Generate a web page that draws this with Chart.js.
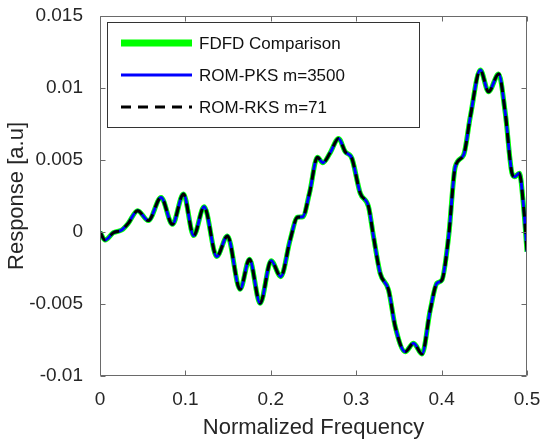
<!DOCTYPE html>
<html>
<head>
<meta charset="utf-8">
<script src="https://cdn.jsdelivr.net/npm/chart.js@4/dist/chart.umd.min.js"></script>
<style>
    html, body { margin: 0; padding: 0; background: #fff; }
    #wrap { width: 540px; height: 441px; }
</style>
</head>
<body>
<div id="wrap"><canvas id="responseChart" width="540" height="441"></canvas></div>
<script>
const freq = [0, 0.006, 0.0156, 0.0254, 0.033, 0.0441, 0.0566, 0.0715, 0.0848, 0.0977,
    0.1097, 0.1219, 0.1367, 0.1492, 0.164, 0.175, 0.1875, 0.2004, 0.2117, 0.2226,
    0.2312, 0.2375, 0.2453, 0.2546, 0.2609, 0.2695, 0.2793, 0.2871, 0.2949, 0.3047,
    0.3144, 0.3203, 0.3281, 0.3379, 0.3457, 0.3574, 0.3672, 0.377, 0.3867, 0.3945,
    0.4004, 0.4082, 0.416, 0.4258, 0.4336, 0.4453, 0.455, 0.4668, 0.4746, 0.4824,
    0.4855, 0.491, 0.496, 0.5];
const response = [0, -0.00056, -0.00005, 0.00014, 0.0006, 0.00148, 0.00079, 0.0024, 0.00053, 0.00264,
    -0.00025, 0.00176, -0.0017, -0.00028, -0.00398, -0.0019, -0.00495, -0.002, -0.0031, -0.00056,
    0.00102, 0.00106, 0.0027, 0.00519, 0.00481, 0.0055, 0.0065, 0.00558, 0.00512, 0.0027,
    0.00176, -0.00033, -0.00287, -0.00403, -0.00657, -0.00831, -0.00773, -0.00847, -0.00542, -0.00356,
    -0.00333, -0.00033, 0.00453, 0.00535, 0.008, 0.01125, 0.00974, 0.01097, 0.00824, 0.00408,
    0.00384, 0.00408, 0.00176, -0.00137];

const seriesNames = ["FDFD Comparison", "ROM-PKS m=3500", "ROM-RKS m=71"];
const xTicks = [0, 0.1, 0.2, 0.3, 0.4, 0.5];
const xTickLabels = ["0", "0.1", "0.2", "0.3", "0.4", "0.5"];
const yTicks = [-0.01, -0.005, 0, 0.005, 0.01, 0.015];
const yTickLabels = ["-0.01", "-0.005", "0", "0.005", "0.01", "0.015"];

const points = freq.map((f, i) => ({ x: f, y: response[i] }));
const axisColor = '#6a6a6a';
const textColor = '#262626';
const fontFamily = '"Liberation Sans", Arial, sans-serif';

// box round the axes with inward ticks, like matlab
const framePlugin = {
    id: 'frame',
    afterDatasetsDraw: (chart) => {
        const ctx = chart.ctx;
        const a = chart.chartArea;
        const xs = chart.scales.x, ys = chart.scales.y;
        const L = Math.round(a.left) + 0.5, R = Math.round(a.right) - 0.5;
        const T = Math.round(a.top) + 0.5, B = Math.round(a.bottom) - 0.5;
        ctx.save();
        ctx.strokeStyle = axisColor;
        ctx.lineWidth = 1;
        ctx.beginPath();
        ctx.rect(L, T, R - L, B - T);
        xTicks.forEach(v => {
            const px = Math.round(xs.getPixelForValue(v)) + 0.5;
            ctx.moveTo(px, B); ctx.lineTo(px, B - 5);
            ctx.moveTo(px, T); ctx.lineTo(px, T + 5);
        });
        yTicks.forEach(v => {
            const py = Math.round(ys.getPixelForValue(v)) + 0.5;
            ctx.moveTo(L, py); ctx.lineTo(L + 5, py);
            ctx.moveTo(R, py); ctx.lineTo(R - 5, py);
        });
        ctx.stroke();
        ctx.restore();
    }
};

// legend drawn inside the plot (top left)
const boxLegend = {
    id: 'boxLegend',
    afterDraw: (chart) => {
        const ctx = chart.ctx;
        const bx = 107.5, by = 22.5, bw = 312, bh = 105;
        const rows = [43, 75, 107];
        ctx.save();
        ctx.fillStyle = '#fff';
        ctx.fillRect(bx, by, bw, bh);
        ctx.strokeStyle = '#333';
        ctx.lineWidth = 1;
        ctx.strokeRect(bx, by, bw, bh);
        chart.data.datasets.forEach((ds, i) => {
            const y = rows[i];
            ctx.strokeStyle = ds.borderColor;
            ctx.lineWidth = i === 0 ? 7 : ds.borderWidth; // green sample is drawn fatter in the ref
            ctx.setLineDash(ds.borderDash || []);
            ctx.beginPath();
            ctx.moveTo(121, y);
            ctx.lineTo(192, y);
            ctx.stroke();
            ctx.setLineDash([]);
            ctx.fillStyle = '#111';
            ctx.font = '17px ' + fontFamily;
            ctx.textBaseline = 'middle';
            ctx.textAlign = 'left';
            ctx.fillText(ds.label, 199, y + 1);
        });
        ctx.restore();
    }
};

const ctx = document.getElementById('responseChart').getContext('2d');
new Chart(ctx, {
    type: 'line',
    data: {
        datasets: [{
            label: seriesNames[0],
            data: points,
            borderColor: '#00ff00',
            borderWidth: 5,
            order: 3
        }, {
            label: seriesNames[1],
            data: points,
            borderColor: '#0000ff',
            borderWidth: 3,
            order: 2
        }, {
            label: seriesNames[2],
            data: points,
            borderColor: '#000000',
            borderWidth: 3,
            borderDash: [10, 7],
            order: 1
        }]
    },
    options: {
        responsive: false,
        animation: false,
        devicePixelRatio: 1,
        parsing: false,
        elements: {
            point: { radius: 0 },
            line: { cubicInterpolationMode: 'monotone', fill: false }
        },
        layout: { padding: { left: 4, top: 16, right: 13, bottom: 0 } },
        plugins: {
            legend: { display: false },
            tooltip: { enabled: false }
        },
        scales: {
            x: {
                type: 'linear',
                min: 0,
                max: 0.5,
                afterBuildTicks: (s) => { s.ticks = xTicks.map(v => ({ value: v })); },
                afterFit: (s) => { s.height = 65; s.paddingLeft = 0; s.paddingRight = 0; },
                grid: { display: false },
                border: { display: false },
                ticks: {
                    padding: 4,
                    color: textColor,
                    font: { family: fontFamily, size: 19 },
                    maxRotation: 0,
                    callback: (v, i) => xTickLabels[i]
                },
                title: {
                    display: true,
                    text: 'Normalized Frequency',
                    color: textColor,
                    padding: { top: 0, bottom: 0 },
                    font: { family: fontFamily, size: 22 }
                }
            },
            y: {
                type: 'linear',
                min: -0.01,
                max: 0.015,
                afterBuildTicks: (s) => { s.ticks = yTicks.map(v => ({ value: v })); },
                afterFit: (s) => { s.width = 96; s.paddingTop = 0; s.paddingBottom = 0; },
                grid: { display: false },
                border: { display: false },
                ticks: {
                    padding: 9,
                    color: textColor,
                    font: { family: fontFamily, size: 19 },
                    callback: (v, i) => yTickLabels[i]
                },
                title: {
                    display: true,
                    text: 'Response [a.u]',
                    color: textColor,
                    padding: { top: 0, bottom: 0 },
                    font: { family: fontFamily, size: 22 }
                }
            }
        }
    },
    plugins: [framePlugin, boxLegend]
});
</script>
</body>
</html>
